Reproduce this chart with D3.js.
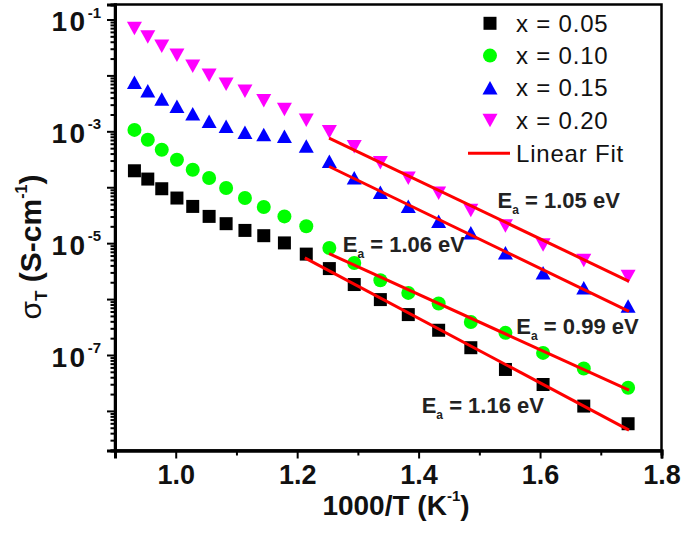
<!DOCTYPE html>
<html>
<head>
<meta charset="utf-8">
<script src="https://cdn.jsdelivr.net/npm/d3@7"></script>
<style>
  body { margin: 0; background: #fff; }
  text { font-family: "Liberation Sans", Arial, sans-serif; }
</style>
</head>
<body>
<div id="chart"></div>
<script>
// 1000/T values (K^-1), same for every sample
var invT = [0.932, 0.954, 0.977, 1.002, 1.028, 1.055, 1.083, 1.114, 1.145, 1.179, 1.215,
            1.253, 1.294, 1.337, 1.383, 1.433, 1.486, 1.543, 1.605, 1.672, 1.745];

// conductivity (S/cm)
var sig005 = [1.97e-4, 1.40e-4, 9.40e-5, 6.41e-5, 4.54e-5, 3.01e-5, 2.23e-5, 1.69e-5, 1.36e-5, 1.01e-5, 6.37e-6,
              3.51e-6, 1.82e-6, 9.79e-7, 5.28e-7, 2.77e-7, 1.35e-7, 5.51e-8, 2.97e-8, 1.22e-8, 5.90e-9];
var sig010 = [1.06e-3, 7.05e-4, 4.68e-4, 3.10e-4, 2.05e-4, 1.46e-4, 9.68e-5, 6.41e-5, 4.43e-5, 3.01e-5, 2.01e-5,
              8.20e-6, 4.43e-6, 2.17e-6, 1.29e-6, 8.32e-7, 3.88e-7, 2.49e-7, 1.09e-7, 5.74e-8, 2.59e-8];
var sig015 = [7.43e-3, 5.28e-3, 3.76e-3, 2.77e-3, 2.05e-3, 1.50e-3, 1.22e-3, 9.53e-4, 8.65e-4, 8.07e-4, 5.40e-4,
              2.89e-4, 1.46e-4, 8.07e-5, 4.54e-5, 2.45e-5, 1.52e-5, 6.68e-6, 2.94e-6, 1.58e-6, 7.43e-7];
var sig020 = [6.97e-2, 4.93e-2, 3.37e-2, 2.32e-2, 1.48e-2, 1.02e-2, 7.05e-3, 5.28e-3, 3.55e-3, 2.49e-3, 1.60e-3,
              9.91e-4, 5.36e-4, 2.77e-4, 1.46e-4, 7.87e-5, 3.88e-5, 2.05e-5, 9.40e-6, 4.93e-6, 2.55e-6];

// linear fit end points [1000/T, sigma]
var fit005 = [[1.2126, 5.45e-6], [1.7465, 4.54e-9]];
var fit010 = [[1.2526, 6.49e-6], [1.7465, 2.35e-8]];
var fit015 = [[1.2526, 2.35e-4], [1.7465, 6.05e-7]];
var fit020 = [[1.2526, 7.57e-4], [1.7465, 2.08e-6]];

var seriesNames = ["x = 0.05", "x = 0.10", "x = 0.15", "x = 0.20"];
var seriesColors = ["#000000", "#00ff00", "#0000ff", "#ff00ff"];
var seriesShapes = ["square", "circle", "up", "down"];

// activation energies and where their labels sit (data coords)
var eaLabels = ["1.16 eV", "1.06 eV", "0.99 eV", "1.05 eV"];
var eaPos = [[1.405, 9.08e-9], [1.275, 7.05e-6], [1.561, 2.34e-7], [1.530, 4.26e-5]];

var xTicks = [1.0, 1.2, 1.4, 1.6, 1.8];
var xMinor = [0.9, 1.1, 1.3, 1.5, 1.7];
var yLabelExp = [-1, -3, -5, -7];

var svgWidth = 685;
var svgHeight = 534;
var margin = {top: 4.5, right: 23.5, bottom: 83.5, left: 115};
var width = svgWidth - margin.left - margin.right;
var height = svgHeight - margin.top - margin.bottom;

var svg = d3.select("#chart")
    .append("svg")
    .attr("width", svgWidth)
    .attr("height", svgHeight);

var chart = svg.append("g")
    .attr("transform", "translate(" + margin.left + "," + margin.top + ")");

var x = d3.scaleLinear().domain([0.9, 1.8]).range([0, width]);
var y = d3.scaleLog().domain([Math.pow(10, -8.708), Math.pow(10, -0.732)]).range([height, 0]);

// minor / major log ticks
var yMajor = [], yMinorV = [];
for (var e = -9; e <= -1; e++) {
    for (var m = 1; m <= 9; m++) {
        var v = m * Math.pow(10, e);
        if (v < y.domain()[0] || v > y.domain()[1]) continue;
        if (m == 1) yMajor.push(v); else yMinorV.push(v);
    }
}

// frame
chart.append("rect")
    .attr("width", width)
    .attr("height", height)
    .attr("fill", "none")
    .attr("stroke", "#000")
    .attr("stroke-width", 2.5);

// x axis
var xAxis = chart.append("g")
    .attr("transform", "translate(0," + height + ")")
    .call(d3.axisBottom(x).tickValues(xTicks).tickSize(8).tickPadding(6).tickFormat(d3.format(".1f")));
chart.append("g")
    .attr("transform", "translate(0," + height + ")")
    .call(d3.axisBottom(x).tickValues(xMinor).tickSize(5).tickFormat(""));

// y axis
var yAxis = chart.append("g")
    .call(d3.axisLeft(y).tickValues(yMajor).tickSize(8).tickFormat(""));
chart.append("g")
    .call(d3.axisLeft(y).tickValues(yMinorV).tickSize(4.5).tickFormat(""));

chart.selectAll(".domain").attr("stroke-width", 3);
chart.selectAll(".tick line").attr("stroke-width", 2);

xAxis.selectAll("text")
    .attr("font-size", "27px")
    .attr("font-weight", "bold")
    .attr("fill", "#111");

yLabelExp.forEach(function(k) {
    var t = chart.append("text")
        .attr("x", -14)
        .attr("y", y(Math.pow(10, k)) + 12)
        .attr("text-anchor", "end")
        .attr("font-weight", "bold")
        .attr("fill", "#111");
    t.append("tspan").attr("font-size", "28px").attr("letter-spacing", "2.5px").text("10");
    t.append("tspan").attr("font-size", "15px").attr("dy", -14).text(k);
});

// axis titles
var xt = chart.append("text")
    .attr("x", 281)
    .attr("y", 510)
    .attr("text-anchor", "middle")
    .attr("font-size", "28px")
    .attr("font-weight", "bold")
    .attr("fill", "#111");
xt.append("tspan").text("1000/T (K");
xt.append("tspan").attr("font-size", "15px").attr("dy", -14).text("-1");
xt.append("tspan").attr("dy", 14).text(")");

var yt = svg.append("text")
    .attr("transform", "translate(41,247) rotate(-90)")
    .attr("text-anchor", "middle")
    .attr("font-size", "30px")
    .attr("font-weight", "bold")
    .attr("fill", "#111");
yt.append("tspan").attr("font-weight", "normal").text("σ");
yt.append("tspan").attr("font-size", "17px").attr("dy", 6).text("T");
yt.append("tspan").attr("dy", -6).text(" (S-cm");
yt.append("tspan").attr("font-size", "16px").attr("dy", -14).text("-1");
yt.append("tspan").attr("dy", 14).text(")");

// marker paths
function markerPath(shape) {
    if (shape == "square") return "M-6.5,-6.5H6.5V6.5H-6.5Z";
    if (shape == "circle") return d3.symbol().type(d3.symbolCircle).size(Math.PI * 49)();
    if (shape == "up") return "M0,-7L7.5,6.5H-7.5Z";
    return "M0,7L7.5,-6.5H-7.5Z";
}

var allSig = [sig005, sig010, sig015, sig020];
var allFit = [fit005, fit010, fit015, fit020];

allSig.forEach(function(s, i) {
    chart.append("g")
        .selectAll("path")
        .data(s)
        .enter()
        .append("path")
        .attr("d", markerPath(seriesShapes[i]))
        .attr("transform", function(d, j) { return "translate(" + x(invT[j]) + "," + y(d) + ")"; })
        .attr("fill", seriesColors[i]);
});

// fit lines
var line = d3.line().x(d => x(d[0])).y(d => y(d[1]));
allFit.forEach(function(f) {
    chart.append("path")
        .attr("d", line(f))
        .attr("fill", "none")
        .attr("stroke", "#ff0000")
        .attr("stroke-width", 3);
});

// activation energy labels
eaLabels.forEach(function(lbl, i) {
    var t = chart.append("text")
        .attr("x", x(eaPos[i][0]))
        .attr("y", y(eaPos[i][1]))
        .attr("font-size", "22px")
        .attr("font-weight", "bold")
        .attr("fill", "#222");
    t.append("tspan").text("E");
    t.append("tspan").attr("font-size", "12px").attr("dy", 6).text("a");
    t.append("tspan").attr("dy", -6).text(" = " + lbl);
});

// legend
var legend = svg.append("g");
seriesNames.forEach(function(name, i) {
    var ly = 23.3 + i * 32.3;
    legend.append("path")
        .attr("d", markerPath(seriesShapes[i]))
        .attr("transform", "translate(490," + ly + ")")
        .attr("fill", seriesColors[i]);
    legend.append("text")
        .attr("x", 516)
        .attr("y", ly + 8.5)
        .attr("font-size", "24px")
        .attr("letter-spacing", "0.8px")
        .attr("fill", "#111")
        .text(name);
});
legend.append("line")
    .attr("x1", 468).attr("x2", 510)
    .attr("y1", 153.3).attr("y2", 153.3)
    .attr("stroke", "#ff0000")
    .attr("stroke-width", 3);
legend.append("text")
    .attr("x", 516)
    .attr("y", 161.8)
    .attr("font-size", "24px")
    .attr("letter-spacing", "0.8px")
    .attr("fill", "#111")
    .text("Linear Fit");
</script>
</body>
</html>
